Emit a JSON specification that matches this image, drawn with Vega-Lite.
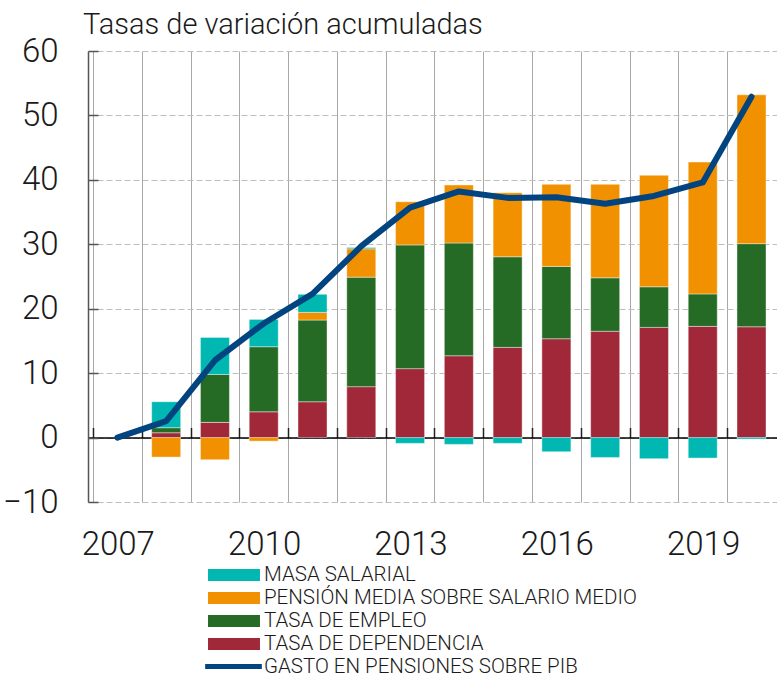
{
  "$schema": "https://vega.github.io/schema/vega-lite/v6.json",
  "width": 689,
  "height": 451,
  "autosize": {"type": "none"},
  "padding": {"left": 88, "top": 51, "right": 0, "bottom": 175},
  "background": "white",
  "config": {"view": {"stroke": null}, "font": "Roboto"},
  "title": {"text": "Tasas de variación acumuladas", "anchor": "start", "frame": "group", "font": "Roboto", "fontSize": 29, "fontWeight": 300, "color": "#1a1a1a", "offset": 10, "dx": -5, "dy": 15},
  "datasets": {
    "componentes": [
      {"year": 2008, "serie": "TASA DE DEPENDENCIA", "orden": 1, "value": 0.75},
      {"year": 2008, "serie": "TASA DE EMPLEO", "orden": 2, "value": 0.78},
      {"year": 2008, "serie": "PENSIÓN MEDIA SOBRE SALARIO MEDIO", "orden": 3, "value": -3.03},
      {"year": 2008, "serie": "MASA SALARIAL", "orden": 4, "value": 4.03},
      {"year": 2009, "serie": "TASA DE DEPENDENCIA", "orden": 1, "value": 2.36},
      {"year": 2009, "serie": "TASA DE EMPLEO", "orden": 2, "value": 7.44},
      {"year": 2009, "serie": "PENSIÓN MEDIA SOBRE SALARIO MEDIO", "orden": 3, "value": -3.44},
      {"year": 2009, "serie": "MASA SALARIAL", "orden": 4, "value": 5.75},
      {"year": 2010, "serie": "TASA DE DEPENDENCIA", "orden": 1, "value": 4.0},
      {"year": 2010, "serie": "TASA DE EMPLEO", "orden": 2, "value": 10.1},
      {"year": 2010, "serie": "PENSIÓN MEDIA SOBRE SALARIO MEDIO", "orden": 3, "value": -0.55},
      {"year": 2010, "serie": "MASA SALARIAL", "orden": 4, "value": 4.24},
      {"year": 2011, "serie": "TASA DE DEPENDENCIA", "orden": 1, "value": 5.56},
      {"year": 2011, "serie": "TASA DE EMPLEO", "orden": 2, "value": 12.68},
      {"year": 2011, "serie": "PENSIÓN MEDIA SOBRE SALARIO MEDIO", "orden": 3, "value": 1.19},
      {"year": 2011, "serie": "MASA SALARIAL", "orden": 4, "value": 2.81},
      {"year": 2012, "serie": "TASA DE DEPENDENCIA", "orden": 1, "value": 7.9},
      {"year": 2012, "serie": "TASA DE EMPLEO", "orden": 2, "value": 17.0},
      {"year": 2012, "serie": "PENSIÓN MEDIA SOBRE SALARIO MEDIO", "orden": 3, "value": 4.4},
      {"year": 2012, "serie": "MASA SALARIAL", "orden": 4, "value": 0.2},
      {"year": 2013, "serie": "TASA DE DEPENDENCIA", "orden": 1, "value": 10.7},
      {"year": 2013, "serie": "TASA DE EMPLEO", "orden": 2, "value": 19.2},
      {"year": 2013, "serie": "PENSIÓN MEDIA SOBRE SALARIO MEDIO", "orden": 3, "value": 6.7},
      {"year": 2013, "serie": "MASA SALARIAL", "orden": 4, "value": -0.9},
      {"year": 2014, "serie": "TASA DE DEPENDENCIA", "orden": 1, "value": 12.7},
      {"year": 2014, "serie": "TASA DE EMPLEO", "orden": 2, "value": 17.5},
      {"year": 2014, "serie": "PENSIÓN MEDIA SOBRE SALARIO MEDIO", "orden": 3, "value": 9.0},
      {"year": 2014, "serie": "MASA SALARIAL", "orden": 4, "value": -1.06},
      {"year": 2015, "serie": "TASA DE DEPENDENCIA", "orden": 1, "value": 14.0},
      {"year": 2015, "serie": "TASA DE EMPLEO", "orden": 2, "value": 14.06},
      {"year": 2015, "serie": "PENSIÓN MEDIA SOBRE SALARIO MEDIO", "orden": 3, "value": 9.94},
      {"year": 2015, "serie": "MASA SALARIAL", "orden": 4, "value": -0.9},
      {"year": 2016, "serie": "TASA DE DEPENDENCIA", "orden": 1, "value": 15.34},
      {"year": 2016, "serie": "TASA DE EMPLEO", "orden": 2, "value": 11.23},
      {"year": 2016, "serie": "PENSIÓN MEDIA SOBRE SALARIO MEDIO", "orden": 3, "value": 12.73},
      {"year": 2016, "serie": "MASA SALARIAL", "orden": 4, "value": -2.2},
      {"year": 2017, "serie": "TASA DE DEPENDENCIA", "orden": 1, "value": 16.5},
      {"year": 2017, "serie": "TASA DE EMPLEO", "orden": 2, "value": 8.3},
      {"year": 2017, "serie": "PENSIÓN MEDIA SOBRE SALARIO MEDIO", "orden": 3, "value": 14.5},
      {"year": 2017, "serie": "MASA SALARIAL", "orden": 4, "value": -3.08},
      {"year": 2018, "serie": "TASA DE DEPENDENCIA", "orden": 1, "value": 17.1},
      {"year": 2018, "serie": "TASA DE EMPLEO", "orden": 2, "value": 6.3},
      {"year": 2018, "serie": "PENSIÓN MEDIA SOBRE SALARIO MEDIO", "orden": 3, "value": 17.3},
      {"year": 2018, "serie": "MASA SALARIAL", "orden": 4, "value": -3.28},
      {"year": 2019, "serie": "TASA DE DEPENDENCIA", "orden": 1, "value": 17.26},
      {"year": 2019, "serie": "TASA DE EMPLEO", "orden": 2, "value": 5.04},
      {"year": 2019, "serie": "PENSIÓN MEDIA SOBRE SALARIO MEDIO", "orden": 3, "value": 20.46},
      {"year": 2019, "serie": "MASA SALARIAL", "orden": 4, "value": -3.18},
      {"year": 2020, "serie": "TASA DE DEPENDENCIA", "orden": 1, "value": 17.2},
      {"year": 2020, "serie": "TASA DE EMPLEO", "orden": 2, "value": 12.9},
      {"year": 2020, "serie": "PENSIÓN MEDIA SOBRE SALARIO MEDIO", "orden": 3, "value": 23.1},
      {"year": 2020, "serie": "MASA SALARIAL", "orden": 4, "value": -0.23}
    ],
    "gasto": [
      {"year": 2007, "serie": "GASTO EN PENSIONES SOBRE PIB", "value": 0},
      {"year": 2008, "serie": "GASTO EN PENSIONES SOBRE PIB", "value": 2.56},
      {"year": 2009, "serie": "GASTO EN PENSIONES SOBRE PIB", "value": 12.0},
      {"year": 2010, "serie": "GASTO EN PENSIONES SOBRE PIB", "value": 17.7},
      {"year": 2011, "serie": "GASTO EN PENSIONES SOBRE PIB", "value": 22.3},
      {"year": 2012, "serie": "GASTO EN PENSIONES SOBRE PIB", "value": 29.7},
      {"year": 2013, "serie": "GASTO EN PENSIONES SOBRE PIB", "value": 35.7},
      {"year": 2014, "serie": "GASTO EN PENSIONES SOBRE PIB", "value": 38.2},
      {"year": 2015, "serie": "GASTO EN PENSIONES SOBRE PIB", "value": 37.2},
      {"year": 2016, "serie": "GASTO EN PENSIONES SOBRE PIB", "value": 37.3},
      {"year": 2017, "serie": "GASTO EN PENSIONES SOBRE PIB", "value": 36.3},
      {"year": 2018, "serie": "GASTO EN PENSIONES SOBRE PIB", "value": 37.5},
      {"year": 2019, "serie": "GASTO EN PENSIONES SOBRE PIB", "value": 39.6},
      {"year": 2020, "serie": "GASTO EN PENSIONES SOBRE PIB", "value": 52.9}
    ]
  },
  "layer": [
    {
      "data": {"name": "componentes"},
      "mark": {"type": "bar", "width": 29, "stroke": "#ffffff", "strokeOpacity": 0.4, "strokeWidth": 1},
      "encoding": {
        "x": {
          "field": "year", "type": "quantitative",
          "scale": {"domain": [2006.5, 2020.42], "nice": false, "zero": false},
          "axis": {
            "orient": "bottom", "title": null,
            "values": [2006.5, 2007.5, 2008.5, 2009.5, 2010.5, 2011.5, 2012.5, 2013.5, 2014.5, 2015.5, 2016.5, 2017.5, 2018.5, 2019.5],
            "grid": true, "gridColor": "#a8a8a8", "gridWidth": 1,
            "ticks": false, "domain": false,
            "labelOffset": 24.75, "labelFlush": false, "labelOverlap": false,
            "labelExpr": "(datum.value + 0.5) % 3 == 0 ? '' + (datum.value + 0.5) : ''",
            "labelFont": "Roboto", "labelFontSize": 33, "labelFontWeight": 300, "labelColor": "#1a1a1a", "labelPadding": 26
          }
        },
        "y": {
          "field": "value", "type": "quantitative", "stack": "zero",
          "scale": {"domain": [-10, 60], "nice": false},
          "axis": {
            "title": null, "values": [-10, 0, 10, 20, 30, 40, 50, 60],
            "grid": true, "gridDash": [6, 3], "gridColor": "#bdbdbd", "gridWidth": 1,
            "domainColor": "#555555", "domainWidth": 1.5,
            "tickColor": "#555555", "tickWidth": 1.5, "tickSize": -10,
            "labelPadding": 40, "labelFont": "Roboto", "labelFontSize": 33, "labelFontWeight": 300, "labelColor": "#1a1a1a"
          }
        },
        "fill": {
          "field": "serie", "type": "nominal",
          "scale": {
            "domain": ["MASA SALARIAL", "PENSIÓN MEDIA SOBRE SALARIO MEDIO", "TASA DE EMPLEO", "TASA DE DEPENDENCIA"],
            "range": ["#00b8b1", "#f29100", "#256b25", "#a12838"]
          },
          "legend": {
            "orient": "none", "legendX": 134, "legendY": 512, "title": null, "direction": "vertical",
            "symbolType": "M-2.2,-0.5H2.2V0.5H-2.2Z", "symbolSize": 558, "symbolStrokeWidth": 0, "symbolOpacity": 1,
            "labelFont": "Roboto", "labelFontSize": 20.5, "labelFontWeight": 300, "labelColor": "#1a1a1a", "labelLimit": 600,
            "labelOffset": 18, "rowPadding": 0, "padding": 0
          }
        },
        "order": {"field": "orden", "type": "quantitative", "sort": "ascending"}
      }
    },
    {
      "data": {"name": "gasto"},
      "mark": {"type": "line", "strokeWidth": 6, "strokeCap": "round", "strokeJoin": "round"},
      "encoding": {
        "x": {
          "field": "year", "type": "quantitative",
          "axis": {
            "orient": "bottom", "title": null, "offset": -64.5,
            "values": [2006.5, 2007.5, 2008.5, 2009.5, 2010.5, 2011.5, 2012.5, 2013.5, 2014.5, 2015.5, 2016.5, 2017.5, 2018.5, 2019.5],
            "grid": false, "labels": false,
            "domain": true, "domainColor": "#000000", "domainWidth": 1.5,
            "ticks": true, "tickColor": "#222222", "tickWidth": 1.5, "tickSize": -10
          }
        },
        "y": {"field": "value", "type": "quantitative", "axis": {"title": null}},
        "stroke": {
          "field": "serie", "type": "nominal",
          "scale": {"range": ["#01447f"]},
          "legend": {
            "orient": "none", "legendX": 131, "legendY": 601, "title": null,
            "symbolType": "M-2.4,0H2.4", "symbolSize": 558, "symbolStrokeWidth": 5,
            "labelFont": "Roboto", "labelFontSize": 20.5, "labelFontWeight": 300, "labelColor": "#1a1a1a", "labelLimit": 600,
            "labelOffset": 16, "padding": 0
          }
        }
      }
    }
  ],
  "resolve": {"axis": {"x": "independent"}}
}
